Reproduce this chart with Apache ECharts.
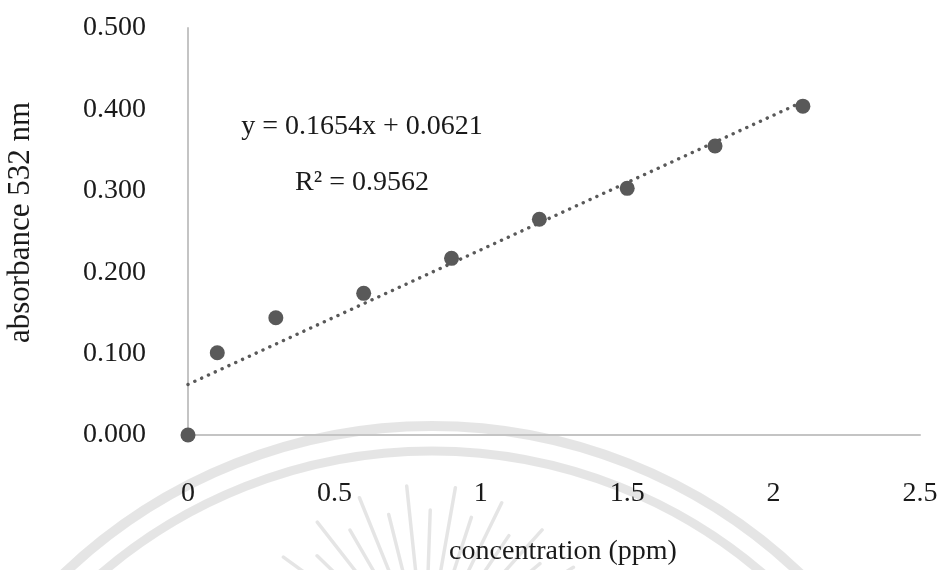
<!DOCTYPE html>
<html>
    <head>
        <meta charset="utf-8">
        <script src="https://cdn.jsdelivr.net/npm/echarts@6/dist/echarts.min.js"></script>
    </head>
    <body>
        <style>
            html, body, #main {
                margin: 0;
                width: 942px;
                height: 570px;
                background: #fff;
            }
        </style>

        <div id="main"></div>

        <script>
            // measured points
            const concentration = [0, 0.1, 0.3, 0.6, 0.9, 1.2, 1.5, 1.8, 2.1];
            const absorbance = [0.000, 0.101, 0.144, 0.174, 0.217, 0.265, 0.303, 0.355, 0.404];

            // linear trendline as reported on the chart
            const trendSlope = 0.1654;
            const trendIntercept = 0.0621;
            const rSquared = 0.9562;

            const xTicks = [0, 0.5, 1, 1.5, 2, 2.5];
            const yTicks = [0, 0.1, 0.2, 0.3, 0.4, 0.5];

            const font = '"Liberation Serif", "Times New Roman", serif';
            const textColor = '#1a1a1a';
            const axisColor = '#c4c4c4';
            const markColor = '#595959';

            var chart = echarts.init(document.getElementById('main'));

            const points = concentration.map((x, i) => [x, absorbance[i]]);
            const xEnd = concentration[concentration.length - 1];
            const trend = [
                [0, trendIntercept],
                [xEnd, trendSlope * xEnd + trendIntercept]
            ];

            // faint seal watermark behind the plot
            const wm = 'rgba(0,0,0,0.1)';
            const watermark = [
                {type: 'arc', shape: {cx: 432, cy: 959, r: 533, startAngle: Math.PI, endAngle: 2 * Math.PI},
                 style: {stroke: wm, lineWidth: 10, fill: null}, z: -10, silent: true},
                {type: 'arc', shape: {cx: 432, cy: 959, r: 508, startAngle: Math.PI, endAngle: 2 * Math.PI},
                 style: {stroke: wm, lineWidth: 9, fill: null}, z: -10, silent: true}
            ];
            for (let a = 200; a <= 340; a += 8) {
                const rad = a * Math.PI / 180;
                const r1 = 70, r2 = (Math.round(a / 8) % 2) ? 175 : 150;
                watermark.push({
                    type: 'line', z: -10, silent: true,
                    shape: {
                        x1: 425 + r1 * Math.cos(rad), y1: 660 + r1 * Math.sin(rad),
                        x2: 425 + r2 * Math.cos(rad), y2: 660 + r2 * Math.sin(rad)
                    },
                    style: {stroke: wm, lineWidth: 3.5, lineCap: 'round'}
                });
            }

            var option = {
                backgroundColor: '#fff',
                animation: false,
                grid: {left: 188, right: 22, top: 28, bottom: 135, outerBoundsMode: 'none'},
                xAxis: {
                    type: 'value',
                    min: xTicks[0],
                    max: xTicks[xTicks.length - 1],
                    interval: xTicks[1] - xTicks[0],
                    name: 'concentration (ppm)',
                    nameLocation: 'middle',
                    nameGap: 103,
                    nameTextStyle: {fontFamily: font, fontSize: 28, color: textColor, padding: [0, 0, 0, 18]},
                    axisLine: {show: true, lineStyle: {color: axisColor, width: 2}},
                    axisTick: {show: false},
                    splitLine: {show: false},
                    axisLabel: {fontFamily: font, fontSize: 28, color: textColor, margin: 45}
                },
                yAxis: {
                    type: 'value',
                    min: yTicks[0],
                    max: yTicks[yTicks.length - 1],
                    interval: yTicks[1] - yTicks[0],
                    name: 'absorbance 532 nm',
                    nameLocation: 'middle',
                    nameGap: 152,
                    nameRotate: 90,
                    nameTextStyle: {fontFamily: font, fontSize: 31, color: textColor, padding: [0, 0, 0, 18]},
                    axisLine: {show: true, lineStyle: {color: axisColor, width: 2}},
                    axisTick: {show: false},
                    splitLine: {show: false},
                    axisLabel: {
                        fontFamily: font, fontSize: 28, color: textColor, margin: 42,
                        formatter: v => v.toFixed(3)
                    }
                },
                graphic: watermark.concat([
                    {type: 'text', silent: true, style: {
                        text: 'y = ' + trendSlope.toFixed(4) + 'x + ' + trendIntercept.toFixed(4),
                        x: 362, y: 127, align: 'center', verticalAlign: 'middle',
                        font: '28px ' + font, fill: textColor}},
                    {type: 'text', silent: true, style: {
                        text: 'R² = ' + rSquared.toFixed(4),
                        x: 362, y: 183, align: 'center', verticalAlign: 'middle',
                        font: '28px ' + font, fill: textColor}}
                ]),
                series: [
                    {
                        type: 'line',
                        data: trend,
                        showSymbol: false,
                        z: 2,
                        lineStyle: {color: markColor, width: 3.4, type: [0.1, 7.4], cap: 'round'}
                    },
                    {
                        type: 'scatter',
                        data: points,
                        symbolSize: 15,
                        z: 3,
                        itemStyle: {color: markColor, opacity: 1}
                    }
                ]
            };

            chart.setOption(option);
        </script>
    </body>
</html>
